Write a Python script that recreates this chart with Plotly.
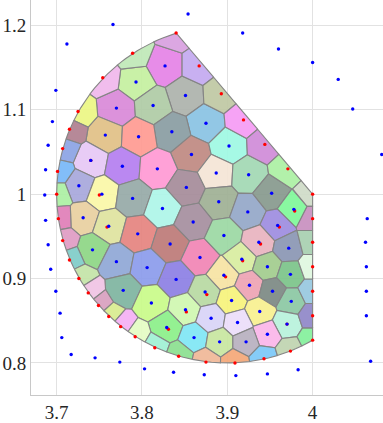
import numpy as np
import plotly.graph_objects as go

# Cell generators inside the region: x, y, colour
inner_x = [3.827,3.793,3.851,3.770,3.813,3.875,3.835,3.757,3.796,3.858,3.740,3.777,3.818,3.852,3.726,3.753,3.789,3.824,3.902,3.887,3.925,3.952,3.890,3.860,3.731,3.761,3.795,3.833,3.742,3.868,3.770,3.806,3.840,3.778,3.874,3.811,3.851,3.829,3.861,3.978,3.924,3.959,3.896,3.937,3.972,3.917,3.947,3.896,3.974,3.926,3.953,3.975,3.905,3.938,3.881,3.912,3.970,3.947,3.891,3.922]
inner_y = [1.152,1.133,1.117,1.102,1.105,1.084,1.074,1.070,1.068,1.047,1.040,1.033,1.030,1.008,1.010,1.000,0.995,0.983,1.057,1.025,1.023,1.001,0.991,0.967,0.972,0.962,0.953,0.941,0.934,0.925,0.920,0.913,0.899,0.886,0.884,0.871,0.863,0.842,0.830,0.982,0.979,0.963,0.951,0.943,0.936,0.923,0.914,0.904,0.905,0.892,0.885,0.873,0.874,0.861,0.853,0.848,0.846,0.834,0.825,0.825]
inner_c = ["#e583e6","#c5f0a0","#adb3ac","#d98ad8","#afcba6","#8ac3e3","#8a9da3","#e1c187","#ff9b92","#c08a82","#e6c8f5","#b57ff0","#ff9ad4","#a68c9a","#a8a8dc","#faf8a8","#97aaa8","#aef5e8","#9ff9e3","#f4e5d6","#a3d8b4","#889a8e","#9fb095","#a68f9f","#e8d0a0","#dfe39f","#e58480","#bd7b78","#8ed685","#f185b5","#90a8d6","#8c9cec","#8d80e4","#7fb5a0","#b8d9a2","#c9fb8a","#d0f7b0","#8cf08a","#80e6f4","#80f89a","#95a8c8","#9e8de0","#9cd8a4","#e8b4c0","#8b97b4","#d8eda0","#a2cc8e","#f6e3a4","#7cc48a","#eea4b4","#7d8a84","#8cc8a4","#f6f37c","#f8f090","#d8d4f8","#ecdefa","#b8f2dc","#fbb6ea","#c8e6a0","#b8b0c0"]

# Cell generators on the region's boundary (red)
edge_x = [3.840,3.867,3.789,3.754,3.725,3.715,3.707,3.701,3.700,3.893,3.919,3.944,3.971,4.000,3.702,3.707,3.715,3.726,3.737,3.749,3.761,3.775,3.792,3.815,3.843,3.875,3.909,3.943,3.974,4.000,4.000,4.000,4.000,4.000,4.000]
edge_y = [1.191,1.152,1.167,1.138,1.098,1.077,1.054,1.027,1.000,1.119,1.088,1.059,1.030,1.000,0.971,0.945,0.922,0.900,0.883,0.868,0.855,0.843,0.831,0.818,0.808,0.801,0.800,0.805,0.814,0.827,0.856,0.885,0.914,0.943,0.971]
edge_c = ["#d8a0e0","#c4aaf0","#c0e8b8","#f0b8ec","#ecf684","#b08090","#8ca4e4","#78b8f8","#acf0a4","#c0c8a4","#f59cf4","#d08cd8","#acf0a4","#d0dcc8","#e07fb8","#e09cc4","#80ccc8","#c4e4a8","#f0c4e4","#d8a0c0","#d8ec90","#f4b0f4","#e4fcc4","#a0f0d4","#8ce090","#f0b898","#f4a878","#7cc8f8","#c0d4b0","#84f09c","#9088c8","#98c8e0","#e0f8e0","#a8d0b0","#c890c0"]

# Extra red points sitting beside a few inner generators
near_x = [3.740,3.750,3.759,3.876,3.852,3.831,3.979,3.961,3.939,3.918,3.898,3.970]
near_y = [1.040,0.999,0.961,0.881,0.8605,0.840,0.980,0.961,0.941,0.921,0.902,0.846]

# Blue points outside the region
outer_x = [3.854,3.766,3.712,3.699,3.695,3.690,3.687,3.686,3.918,3.960,4.000,4.030,4.047,4.081,3.687,3.690,3.693,3.699,3.704,3.706,3.717,3.745,3.774,3.803,3.837,3.873,3.910,3.947,3.983,4.068,4.063,4.063,4.063,4.062,4.064]
outer_y = [1.2135,1.201,1.178,1.123,1.086,1.058,1.029,0.999,1.191,1.172,1.156,1.136,1.101,1.047,0.969,0.940,0.911,0.885,0.859,0.830,0.810,0.806,0.801,0.793,0.789,0.786,0.785,0.787,0.792,0.802,0.856,0.885,0.914,0.943,0.971]

x_ticks = [3.7, 3.8, 3.9, 4.0]
x_labels = ["3.7", "3.8", "3.9", "4"]
y_ticks = [0.8, 0.9, 1.0, 1.1, 1.2]
y_labels = ["0.8", "0.9", "1", "1.1", "1.2"]

# Region: circle arc closed by the line x=4 and a sloped chord
cx, cy, radius = 3.9, 1.0, 0.2
ang = np.radians(np.linspace(107.4, 300.0, 121))
region = np.column_stack([cx + radius * np.cos(ang), cy + radius * np.sin(ang)])
region = np.vstack([region, [4.0, 1.0]])


def clip(poly, site, other):
    mid = (site + other) / 2
    normal = other - site
    d = (poly - mid) @ normal
    out = []
    for i in range(len(poly)):
        a, b = poly[i], poly[(i + 1) % len(poly)]
        da, db = d[i], d[(i + 1) % len(poly)]
        if da <= 0:
            out.append(a)
        if da * db < 0:
            out.append(a + (b - a) * da / (da - db))
    return np.array(out)


sites = np.column_stack([inner_x + edge_x, inner_y + edge_y])
colors = inner_c + edge_c

fig = go.Figure()
for i, s in enumerate(sites):
    poly = region.copy()
    for j, t in enumerate(sites):
        if i != j and len(poly) > 2:
            poly = clip(poly, s, t)
    poly = np.vstack([poly, poly[0]])
    h = colors[i].lstrip("#")
    r, g, b = int(h[:2], 16), int(h[2:4], 16), int(h[4:], 16)
    fig.add_trace(go.Scatter(x=poly[:, 0], y=poly[:, 1], mode="lines", fill="toself",
                             fillcolor=f"rgba({r},{g},{b},0.93)",
                             line=dict(color="#858585", width=1.1),
                             hoverinfo="skip", showlegend=False))

fig.add_trace(go.Scatter(x=edge_x + near_x, y=edge_y + near_y, mode="markers",
                         marker=dict(color="#ff0000", size=3.4), hoverinfo="skip", showlegend=False))
fig.add_trace(go.Scatter(x=inner_x + outer_x, y=inner_y + outer_y, mode="markers",
                         marker=dict(color="#0000ff", size=3.4), hoverinfo="skip", showlegend=False))

axis_font = dict(family="Liberation Serif", size=19, color="#262626")
fig.update_layout(
    width=383, height=423, autosize=False,
    margin=dict(l=31, r=0, t=0, b=24),
    paper_bgcolor="white", plot_bgcolor="white",
    xaxis=dict(range=[3.6699, 4.0825], tickvals=x_ticks, ticktext=x_labels, showgrid=True,
               gridcolor="#e2e2e2", gridwidth=1, zeroline=False, showline=True, linecolor="#c8c8c8",
               linewidth=1, ticks="", tickfont=axis_font),
    yaxis=dict(range=[0.762, 1.2301], tickvals=y_ticks, ticktext=y_labels, showgrid=True,
               gridcolor="#e2e2e2", gridwidth=1, zeroline=False, showline=True, linecolor="#c8c8c8",
               linewidth=1, ticks="", tickfont=axis_font),
)

fig.write_html("out.html", config={"displayModeBar": False},
               post_script="document.body.style.margin='0';")
